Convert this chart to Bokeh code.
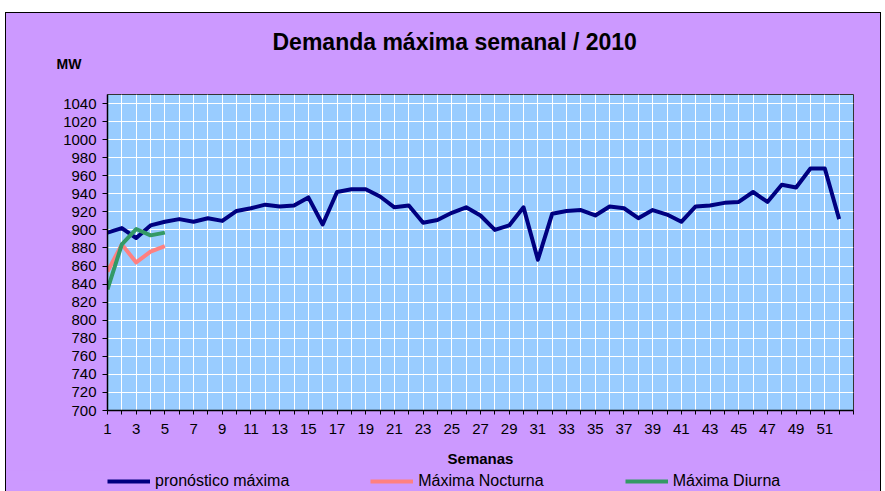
from bokeh.plotting import figure
from bokeh.layouts import column
from bokeh.models import (Range1d, FixedTicker, Title, Legend, LegendItem)
from bokeh.embed import file_html
from bokeh.resources import INLINE

# ---- data ----
weeks = list(range(1, 53))
pronostico = [897, 902, 891, 905, 909, 912, 909, 913, 910, 921,
              924, 928, 926, 927, 936, 906, 942, 945, 945, 937,
              925, 927, 908, 911, 919, 925, 916, 900, 905, 925,
              867, 918, 921, 922, 916, 926, 924, 913, 922, 917,
              909, 926, 927, 930, 931, 942, 931, 950, 947, 968,
              968, 912]
weeks_partial = [1, 2, 3, 4, 5]
nocturna = [854, 884, 864, 876, 882]
diurna = [834, 884, 901, 894, 897]

x_ticks = list(range(1, 54))
y_ticks = list(range(700, 1041, 20))

title_text = "Demanda máxima semanal / 2010"
y_title = "MW"
x_title = "Semanas"
names = ["pronóstico máxima", "Máxima Nocturna", "Máxima Diurna"]
colors = ["#000080", "#FF8080", "#339966"]

FONT = "Liberation Sans"
PURPLE = "#CC99FF"

p = figure(frame_width=746, frame_height=316, output_backend="svg", toolbar_location=None,
           x_range=Range1d(1, 53), y_range=Range1d(700, 1050),
           min_border_left=101, min_border_right=27, min_border_top=81,
           min_border_bottom=60, tools="")
p.border_fill_color = PURPLE
p.background_fill_color = "#99CCFF"
p.outline_line_color = "#333333"
p.outline_line_width = 1

# axes
p.xaxis.ticker = FixedTicker(ticks=x_ticks)
p.xaxis.major_label_overrides = {t: (str(t) if (t % 2 == 1 and t <= 51) else "") for t in x_ticks}
p.yaxis.ticker = FixedTicker(ticks=y_ticks)
for ax in (p.xaxis, p.yaxis):
    ax.axis_line_color = "black"
    ax.axis_line_width = 1.5
    ax.major_tick_line_color = "black"
    ax.major_tick_in = 0
    ax.minor_tick_line_color = None
    ax.major_label_text_font = FONT
    ax.major_label_text_font_size = "15px"
    ax.major_label_text_color = "black"
p.xaxis.major_tick_out = 4
p.xaxis.major_label_standoff = 9
p.yaxis.major_tick_out = 5
p.yaxis.major_label_standoff = 6

p.xaxis.axis_label = x_title
p.xaxis.axis_label_text_font = FONT
p.xaxis.axis_label_text_font_style = "bold"
p.xaxis.axis_label_text_font_size = "15px"
p.xaxis.axis_label_text_color = "black"
p.xaxis.axis_label_standoff = 13

p.xgrid.grid_line_color = "white"
p.ygrid.grid_line_color = "white"
p.xgrid.grid_line_width = 1
p.ygrid.grid_line_width = 1

series = [(weeks, pronostico), (weeks_partial, nocturna), (weeks_partial, diurna)]
for (xs, ys), c in zip(series, colors):
    p.line(xs, ys, line_color=c, line_width=4, line_join="round")

# titles above the frame (first added sits nearest the frame)
p.add_layout(Title(text=y_title, align="left", offset=-51, standoff=45,
                   text_font=FONT, text_font_style="bold", text_font_size="14px",
                   text_color="black"), "above")
p.add_layout(Title(text=title_text, align="left", offset=165, standoff=-47,
                   text_font=FONT, text_font_style="bold", text_font_size="23px",
                   text_color="black"), "above")

# legend strip below the chart (same series, drawn outside its view)
p2 = figure(width=874, height=21, output_backend="svg", toolbar_location=None,
            x_range=Range1d(-2, -1), y_range=Range1d(0, 1), tools="",
            x_axis_type=None, y_axis_type=None,
            min_border_left=0, min_border_right=0, min_border_top=0, min_border_bottom=0)
p2.border_fill_color = PURPLE
p2.background_fill_color = PURPLE
p2.outline_line_color = None
p2.grid.visible = False
rends = [p2.line(xs, ys, line_color=c, line_width=4) for (xs, ys), c in zip(series, colors)]
legend = Legend(items=[LegendItem(label=n, renderers=[r]) for n, r in zip(names, rends)],
                location=(0, 1), orientation="horizontal", padding=0, margin=0,
                spacing=81, glyph_width=43, glyph_height=16, label_height=16,
                label_standoff=5, label_text_font=FONT, label_text_font_size="16px",
                label_text_color="black", border_line_alpha=0, background_fill_alpha=0)
p2.add_layout(legend)

layout = column(p, p2, spacing=0, margin=(13, 0, 0, 6),
                styles={"outline": "1px solid black", "background-color": PURPLE})

open("out.html", "w").write(file_html(layout, INLINE))
